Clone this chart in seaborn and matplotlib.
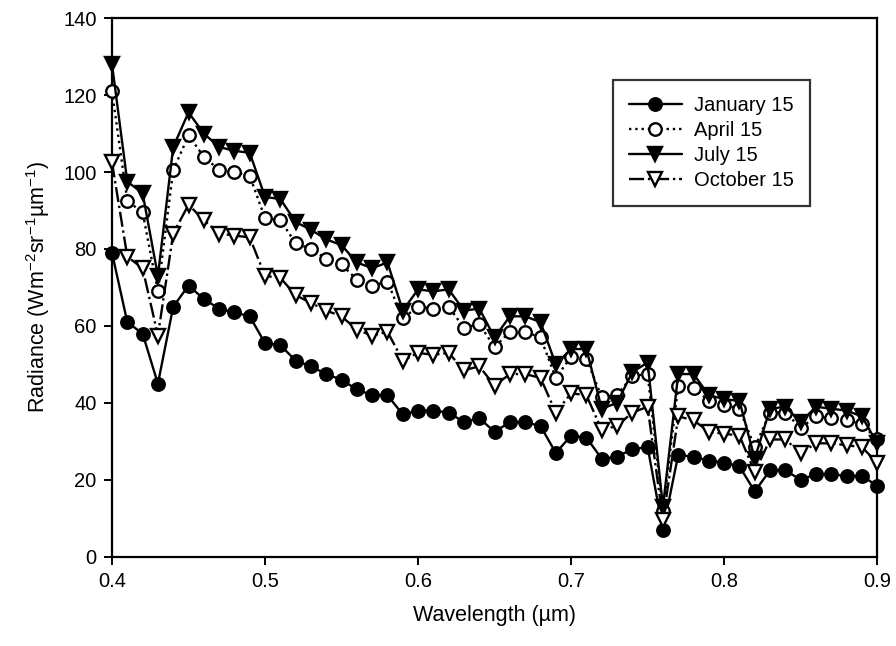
import numpy as np
import pandas as pd
import matplotlib
matplotlib.use("Agg")
import matplotlib.pyplot as plt
import seaborn as sns

wavelength = [0.40, 0.41, 0.42, 0.43, 0.44, 0.45, 0.46, 0.47, 0.48, 0.49,
              0.50, 0.51, 0.52, 0.53, 0.54, 0.55, 0.56, 0.57, 0.58, 0.59,
              0.60, 0.61, 0.62, 0.63, 0.64, 0.65, 0.66, 0.67, 0.68, 0.69,
              0.70, 0.71, 0.72, 0.73, 0.74, 0.75, 0.76, 0.77, 0.78, 0.79,
              0.80, 0.81, 0.82, 0.83, 0.84, 0.85, 0.86, 0.87, 0.88, 0.89,
              0.90]

jan15 = [79, 61, 58, 45, 65, 70.5, 67, 64.5, 63.5, 62.5,
         55.5, 55, 51, 49.5, 47.5, 46, 43.5, 42, 42, 37,
         38, 38, 37.5, 35, 36, 32.5, 35, 35, 34, 27,
         31.5, 31, 25.5, 26, 28, 28.5, 7, 26.5, 26, 25,
         24.5, 23.5, 17, 22.5, 22.5, 20, 21.5, 21.5, 21, 21,
         18.5]

apr15 = [121, 92.5, 89.5, 69, 100.5, 109.5, 104, 100.5, 100, 99,
         88, 87.5, 81.5, 80, 77.5, 76, 72, 70.5, 71.5, 62,
         65, 64.5, 65, 59.5, 60.5, 54.5, 58.5, 58.5, 57, 46.5,
         52, 51.5, 41.5, 42, 47, 47.5, 12, 44.5, 44, 40.5,
         39.5, 38.5, 28.5, 37.5, 37.5, 33.5, 36.5, 36, 35.5, 34.5,
         30.5]

jul15 = [128, 97.5, 94.5, 73, 106.5, 115.5, 110, 106.5, 105.5, 105,
         93.5, 93, 87, 85, 82.5, 81, 76.5, 75, 76.5, 64,
         69.5, 69, 69.5, 64, 64.5, 57, 62.5, 62.5, 61, 50,
         54, 54, 38.5, 40, 48, 50.5, 13, 47.5, 47.5, 42,
         41, 40.5, 25.5, 38.5, 39, 35, 39, 38.5, 38, 36.5,
         29.5]

oct15 = [102.5, 78, 75, 57.5, 84, 91.5, 87.5, 84, 83.5, 83,
         73, 72.5, 68, 66, 64, 62.5, 59, 57.5, 58.5, 51,
         53, 52.5, 53, 48.5, 49.5, 44.5, 47.5, 47.5, 46.5, 37.5,
         42.5, 42, 33, 34, 37.5, 39, 9.5, 36.5, 35.5, 32.5,
         32, 31.5, 22, 30.5, 30.5, 27, 29.5, 29.5, 29, 28.5,
         24.5]

labels = ["January 15", "April 15", "July 15", "October 15"]

sns.set_style("ticks")
plt.rcParams["font.family"] = ["Liberation Sans", "DejaVu Sans"]
plt.rcParams["mathtext.fontset"] = "custom"
plt.rcParams["mathtext.rm"] = "Liberation Sans"
plt.rcParams["mathtext.it"] = "Liberation Sans:italic"
plt.rcParams["text.color"] = "black"
plt.rcParams["axes.labelcolor"] = "black"
plt.rcParams["xtick.color"] = "black"
plt.rcParams["ytick.color"] = "black"

df = pd.DataFrame({"wavelength": wavelength, labels[0]: jan15, labels[1]: apr15,
                   labels[2]: jul15, labels[3]: oct15})
long = df.melt(id_vars="wavelength", var_name="date", value_name="radiance")

styles = {
    "January 15": dict(marker="o", ls="-", mfc="black"),
    "April 15": dict(marker="o", ls=":", mfc="white"),
    "July 15": dict(marker="v", ls="-", mfc="black"),
    "October 15": dict(marker="v", ls="-.", mfc="white"),
}

fig = plt.figure(figsize=(8.96, 6.46), dpi=100)
ax = fig.add_axes([0.125, 0.138, 0.854, 0.834])

for name in labels:
    st = styles[name]
    sub = long[long["date"] == name]
    sns.lineplot(data=sub, x="wavelength", y="radiance", ax=ax, color="black",
                 linestyle=st["ls"], linewidth=1.7, marker=st["marker"],
                 markersize=9 if st["marker"] == "o" else 10,
                 markerfacecolor=st["mfc"], markeredgecolor="black",
                 markeredgewidth=1.7, label=name, clip_on=False, zorder=3)

ax.set_xlim(0.4, 0.9)
ax.set_ylim(0, 140)
ax.set_xticks([0.4, 0.5, 0.6, 0.7, 0.8, 0.9])
ax.set_xticklabels(["0.4", "0.5", "0.6", "0.7", "0.8", "0.9"])
ax.set_yticks(range(0, 141, 20))
ax.tick_params(labelsize=14.5, width=1.4, length=6, direction="out", pad=5)
for s in ax.spines.values():
    s.set_linewidth(1.6)
    s.set_color("black")

ax.set_xlabel("Wavelength (µm)", fontsize=15.5, labelpad=10)
ax.set_ylabel("Radiance (Wm$^{-2}$sr$^{-1}$µm$^{-1}$)", fontsize=15.5, labelpad=8)

leg = ax.legend(loc="upper left", bbox_to_anchor=(0.655, 0.885), fontsize=14.5,
                frameon=True, fancybox=False, edgecolor="black",
                handlelength=2.6, borderpad=0.8, labelspacing=0.3,
                handletextpad=0.6, borderaxespad=0)
leg.get_frame().set_linewidth(1.6)

fig.savefig("out.png", dpi=100)
